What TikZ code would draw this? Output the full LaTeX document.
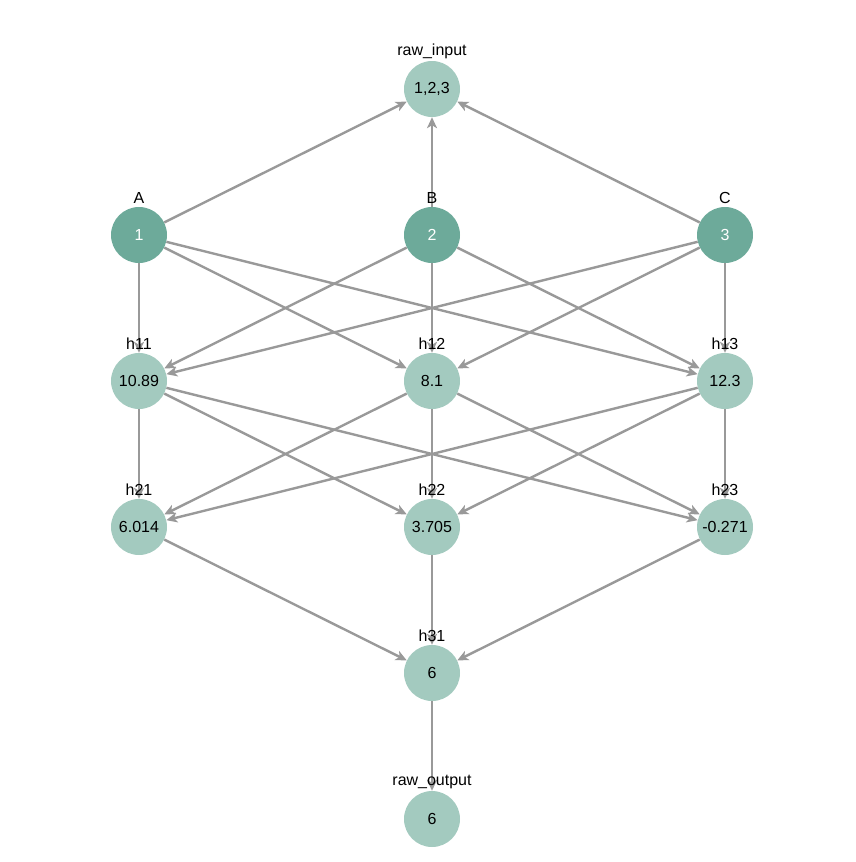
\documentclass[tikz,border=0pt]{standalone}
\usepackage{fontspec}
\setmainfont{Liberation Sans}
\usetikzlibrary{arrows.meta}
\definecolor{dk}{HTML}{6DAA9A}
\definecolor{lt}{HTML}{A3CABF}
\definecolor{eg}{HTML}{999999}
\begin{document}
\begin{tikzpicture}[x=1pt,y=-1pt,
  nd/.style={circle,minimum size=56pt,inner sep=0pt,fill=lt,font=\fontsize{16}{18}\selectfont},
  dn/.style={nd,fill=dk,text=white},
  lb/.style={font=\fontsize{16}{18}\selectfont,inner sep=0pt},
  ed/.style={draw=eg,line width=2.4pt,-{Stealth[length=11pt,width=10pt,inset=3pt]}},
  pl/.style={draw=eg,line width=2.4pt}]
\useasboundingbox (0,0) rectangle (855,862);
\node[nd] (ri) at (432,89) {1,2,3};
\node[dn] (a) at (139,235) {1};
\node[dn] (b) at (432,235) {2};
\node[dn] (c) at (725,235) {3};
\node[nd] (h11) at (139,381) {10.89};
\node[nd] (h12) at (432,381) {8.1};
\node[nd] (h13) at (725,381) {12.3};
\node[nd] (h21) at (139,527) {6.014};
\node[nd] (h22) at (432,527) {3.705};
\node[nd] (h23) at (725,527) {-0.271};
\node[nd] (h31) at (432,673) {6};
\node[nd] (ro) at (432,819) {6};
\foreach \s in {a,b,c} \draw[ed] (\s) -- (ri);
\foreach \s in {a,b,c} \foreach \t in {h11,h12,h13} \draw[ed] (\s) -- (\t);
\foreach \s in {h11,h12,h13} \foreach \t in {h21,h22,h23} \draw[ed] (\s) -- (\t);
\foreach \s in {h21,h22,h23} \draw[ed] (\s) -- (h31);
\draw[ed] (h31) -- (ro);
\node[lb] (lri) at (432,51) {raw\_input};
\node[lb] (la) at (139,198) {A};
\node[lb] (lb_) at (432,198) {B};
\node[lb] (lc) at (725,198) {C};
\node[lb] (l11) at (139,344) {h11};
\node[lb] (l12) at (432,344) {h12};
\node[lb] (l13) at (725,344) {h13};
\node[lb] (l21) at (139,490) {h21};
\node[lb] (l22) at (432,490) {h22};
\node[lb] (l23) at (725,490) {h23};
\node[lb] (l31) at (432,636) {h31};
\node[lb] (lro) at (432,782) {raw\_output};
\end{tikzpicture}
\end{document}
